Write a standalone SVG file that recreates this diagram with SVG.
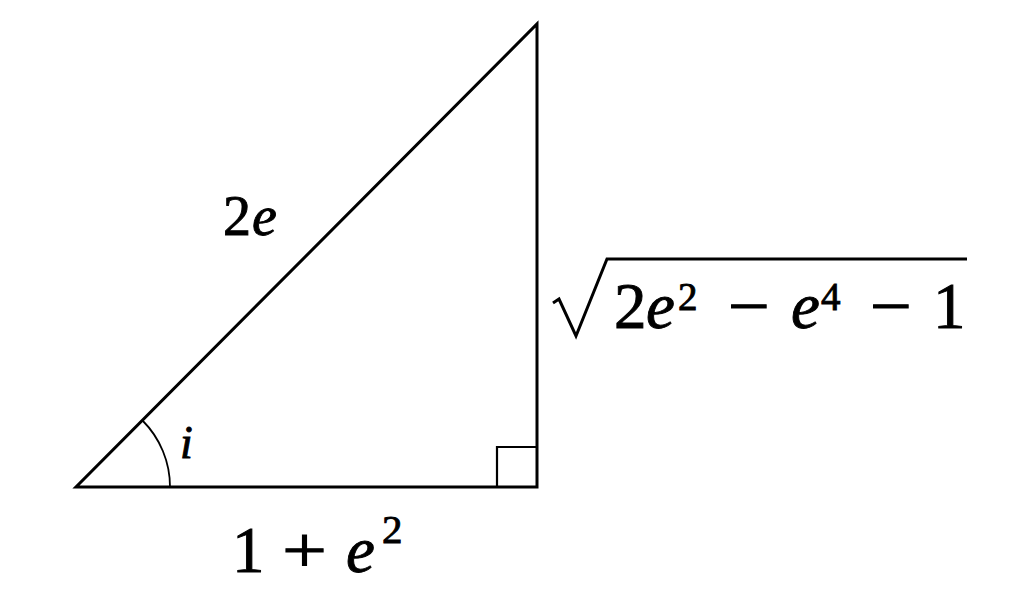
<svg xmlns="http://www.w3.org/2000/svg" width="1024" height="600" viewBox="0 0 1024 600">
<style>
.lbl{font-family:'Liberation Serif',serif;fill:#000;stroke:#000;stroke-width:0.9}
.it{font-style:italic}
.big{font-size:65px}
.sup{font-size:39px}
</style>
<rect width="1024" height="600" fill="#fff"/>
<g id="connectors" stroke="#000" fill="none">
<path d="M76,487 L537,487 L537,24 Z" stroke-width="3" stroke-linejoin="miter"/>
<path d="M497,487 L497,447 L537,447" stroke-width="2.2"/>
<path d="M170,487 A94,94 0 0 0 142.5,420.5" stroke-width="1.8"/>
<path d="M553,303 L559,299 L576,336 L607,259 L967,259" stroke-width="3" stroke-linejoin="miter"/>
</g>
<g id="label-hyp">
<text class="lbl" x="223" y="235" font-size="56">2</text>
<text class="lbl it" x="252" y="235" font-size="56">e</text>
</g>
<g id="label-angle">
<text class="lbl it" x="180" y="458" font-size="46">i</text>
</g>
<g id="label-base">
<text class="lbl big" x="232" y="572">1</text>
<text class="lbl big" x="282" y="572" textLength="45" lengthAdjust="spacingAndGlyphs">+</text>
<text class="lbl big it" x="346" y="572">e</text>
<text class="lbl" x="382" y="543" font-size="41">2</text>
</g>
<g id="label-height">
<text class="lbl big" x="614" y="328">2</text>
<text class="lbl big it" x="646" y="328">e</text>
<text class="lbl sup" x="678" y="310">2</text>
<text class="lbl big" x="728" y="328" textLength="42" lengthAdjust="spacingAndGlyphs">−</text>
<text class="lbl big it" x="791" y="328">e</text>
<text class="lbl sup" x="821" y="310">4</text>
<text class="lbl big" x="870" y="328" textLength="42" lengthAdjust="spacingAndGlyphs">−</text>
<text class="lbl big" x="933" y="328">1</text>
</g>
</svg>
